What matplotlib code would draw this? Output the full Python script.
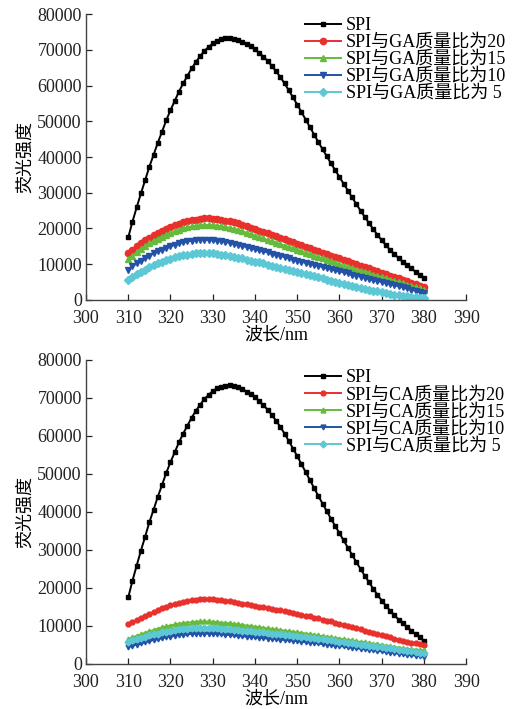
import numpy as np
import matplotlib
matplotlib.use("Agg")
import matplotlib.pyplot as plt

plt.rcParams['font.family'] = ['Liberation Serif', 'Noto Sans CJK SC']
plt.rcParams['axes.unicode_minus'] = False

# wavelength, nm
wavelength = list(range(310, 381))

# SPI alone (same measurement in both panels)
spi = [17500, 21900, 25900, 29800, 33500, 37300, 40600, 44000, 47100, 50300,
       53100, 55700, 58300, 60600, 62700, 64800, 66600, 68200, 69700, 70800,
       71800, 72500, 73000, 73200, 73300, 73100, 72800, 72300, 71700, 71000,
       70200, 69200, 68100, 66900, 65500, 64000, 62400, 60600, 58700, 56700,
       54700, 52600, 50500, 48400, 46300, 44200, 42200, 40200, 38200, 36300,
       34400, 32500, 30600, 28700, 26800, 25000, 23200, 21500, 19800, 18200,
       16700, 15300, 14000, 12800, 11700, 10700, 9700, 8800, 7900, 7000, 6000]

# SPI + GA, mass ratio 20 / 15 / 10 / 5
ga_20 = [13000, 14000, 15000, 15900, 16700, 17400, 18100, 18700, 19300, 19900,
         20400, 20900, 21300, 21700, 22000, 22300, 22500, 22700, 22800, 22800,
         22700, 22600, 22400, 22200, 22000, 21700, 21400, 21000, 20600, 20200,
         19800, 19400, 19000, 18600, 18200, 17800, 17400, 17000, 16500, 16100,
         15700, 15300, 14900, 14500, 14000, 13600, 13200, 12800, 12400, 12000,
         11600, 11200, 10800, 10400, 10000, 9600, 9200, 8800, 8400, 8000,
         7600, 7200, 6800, 6400, 6000, 5600, 5200, 4800, 4400, 4000, 3600]
ga_15 = [11400, 12400, 13400, 14300, 15100, 15800, 16500, 17100, 17700, 18200,
         18700, 19200, 19600, 20000, 20300, 20600, 20800, 20900, 21000, 21000,
         20900, 20800, 20600, 20400, 20200, 19900, 19600, 19200, 18800, 18400,
         18000, 17600, 17200, 16800, 16400, 16000, 15600, 15200, 14800, 14400,
         14000, 13600, 13200, 12800, 12400, 12000, 11600, 11200, 10800, 10400,
         10000, 9600, 9300, 8900, 8500, 8200, 7800, 7400, 7100, 6700,
         6400, 6000, 5700, 5300, 5000, 4600, 4300, 3900, 3600, 3200, 2900]
ga_10 = [8500, 9400, 10200, 11000, 11700, 12400, 13000, 13600, 14100, 14600,
         15000, 15400, 15800, 16100, 16400, 16600, 16700, 16800, 16800, 16800,
         16700, 16600, 16400, 16200, 16000, 15700, 15400, 15100, 14800, 14500,
         14200, 13900, 13600, 13300, 12900, 12600, 12300, 12000, 11600, 11300,
         11000, 10700, 10400, 10100, 9800, 9500, 9200, 8900, 8600, 8300,
         8000, 7700, 7400, 7100, 6800, 6500, 6200, 5900, 5600, 5300,
         5000, 4700, 4400, 4100, 3800, 3500, 3200, 2900, 2600, 2300, 2000]
ga_5 = [5600, 6400, 7200, 7900, 8500, 9100, 9700, 10200, 10700, 11100,
        11500, 11900, 12200, 12500, 12700, 12900, 13000, 13100, 13100, 13100,
        13000, 12900, 12700, 12500, 12300, 12100, 11800, 11600, 11300, 11000,
        10700, 10500, 10200, 9900, 9600, 9300, 9000, 8700, 8400, 8100,
        7800, 7500, 7200, 6900, 6600, 6300, 6000, 5700, 5400, 5100,
        4800, 4500, 4200, 3900, 3700, 3400, 3100, 2900, 2600, 2400,
        2200, 1900, 1700, 1500, 1300, 1100, 1000, 800, 700, 600, 500]

# SPI + CA, mass ratio 20 / 15 / 10 / 5
ca_20 = [10400, 11000, 11600, 12200, 12700, 13200, 13700, 14200, 14600, 15000,
         15400, 15800, 16100, 16400, 16600, 16800, 16900, 17000, 17100, 17100,
         17000, 16900, 16800, 16600, 16500, 16300, 16100, 15900, 15700, 15500,
         15300, 15100, 14900, 14700, 14500, 14300, 14100, 13900, 13700, 13400,
         13200, 13000, 12700, 12500, 12200, 12000, 11700, 11400, 11200, 10900,
         10600, 10300, 10000, 9700, 9400, 9100, 8800, 8500, 8200, 7900,
         7600, 7300, 7000, 6700, 6400, 6100, 5900, 5600, 5400, 5200, 5000]
ca_15 = [6600, 7000, 7400, 7800, 8200, 8600, 8900, 9300, 9600, 9900,
         10100, 10400, 10600, 10800, 10900, 11000, 11100, 11200, 11200, 11200,
         11100, 11000, 10900, 10800, 10700, 10600, 10400, 10300, 10100, 10000,
         9800, 9700, 9500, 9400, 9200, 9100, 8900, 8800, 8600, 8500,
         8300, 8200, 8000, 7800, 7700, 7500, 7300, 7200, 7000, 6800,
         6700, 6500, 6300, 6200, 6000, 5800, 5700, 5500, 5300, 5200,
         5000, 4800, 4700, 4500, 4300, 4200, 4000, 3900, 3800, 3700, 3600]
ca_10 = [4400, 4800, 5100, 5400, 5700, 6000, 6300, 6500, 6800, 7000,
         7200, 7400, 7600, 7700, 7800, 7900, 8000, 8000, 8000, 8000,
         7900, 7900, 7800, 7700, 7600, 7500, 7400, 7300, 7200, 7100,
         7000, 6900, 6800, 6700, 6600, 6500, 6400, 6300, 6200, 6100,
         6000, 5900, 5700, 5600, 5500, 5400, 5200, 5100, 5000, 4800,
         4700, 4600, 4400, 4300, 4100, 4000, 3900, 3700, 3600, 3400,
         3300, 3100, 3000, 2800, 2700, 2600, 2400, 2300, 2200, 2000, 1900]
ca_5 = [5800, 6200, 6600, 6900, 7200, 7500, 7800, 8000, 8300, 8500,
        8700, 8900, 9100, 9200, 9300, 9400, 9500, 9500, 9500, 9500,
        9400, 9400, 9300, 9200, 9100, 9000, 8900, 8800, 8700, 8600,
        8500, 8400, 8300, 8200, 8000, 7900, 7800, 7700, 7600, 7400,
        7300, 7200, 7000, 6900, 6800, 6600, 6500, 6300, 6200, 6000,
        5900, 5700, 5600, 5400, 5300, 5100, 5000, 4800, 4700, 4500,
        4400, 4200, 4100, 3900, 3800, 3600, 3400, 3300, 3100, 3000, 2800]

ratios = ['20', '15', '10', ' 5']
colors = ['#e8302c', '#66bb3c', '#2452a6', '#5cc8d6']
markers = ['o', '^', 'v', 'D']
x_ticks = list(range(300, 400, 10))
y_ticks = list(range(0, 90000, 10000))


def draw_panel(ax, series, agent, ms_color, ms_black, leg_y):
    ax.plot(wavelength, spi, color='black', marker='s', markersize=ms_black,
            linewidth=1.4, label='SPI')
    for vals, r, c, m in zip(series, ratios, colors, markers):
        ax.plot(wavelength, vals, color=c, marker=m, markersize=ms_color,
                linewidth=1.4, label=f'SPI与{agent}质量比为{r}')
    ax.set_xlim(300, 390)
    ax.set_ylim(0, 80000)
    ax.set_xticks(x_ticks)
    ax.set_yticks(y_ticks)
    ax.tick_params(direction='in', length=4, width=0.9, labelsize=13,
                   colors='#222222', pad=3)
    ax.tick_params(axis='x', pad=7)
    for s in ['top', 'right']:
        ax.spines[s].set_visible(False)
    for s in ['left', 'bottom']:
        ax.spines[s].set_color('#444444')
        ax.spines[s].set_linewidth(1.0)
    ax.set_xlabel('波长/nm', fontsize=13, labelpad=0)
    ax.set_ylabel('荧光强度', fontsize=13, labelpad=2)
    ax.legend(loc='upper left', bbox_to_anchor=(0.575, leg_y), frameon=False,
              fontsize=13, handlelength=2.0, handletextpad=0.3,
              labelspacing=0.0, borderpad=0.0, borderaxespad=0.0)


fig = plt.figure(figsize=(5.18, 7.09), dpi=100)
ax1 = fig.add_axes([0.166, 0.577, 0.734, 0.403])
ax2 = fig.add_axes([0.166, 0.0635, 0.734, 0.4288])

draw_panel(ax1, [ga_20, ga_15, ga_10, ga_5], 'GA', 4.5, 3.5, 0.99)
draw_panel(ax2, [ca_20, ca_15, ca_10, ca_5], 'CA', 3.5, 3.0, 0.97)

fig.savefig('out.png', dpi=100)
